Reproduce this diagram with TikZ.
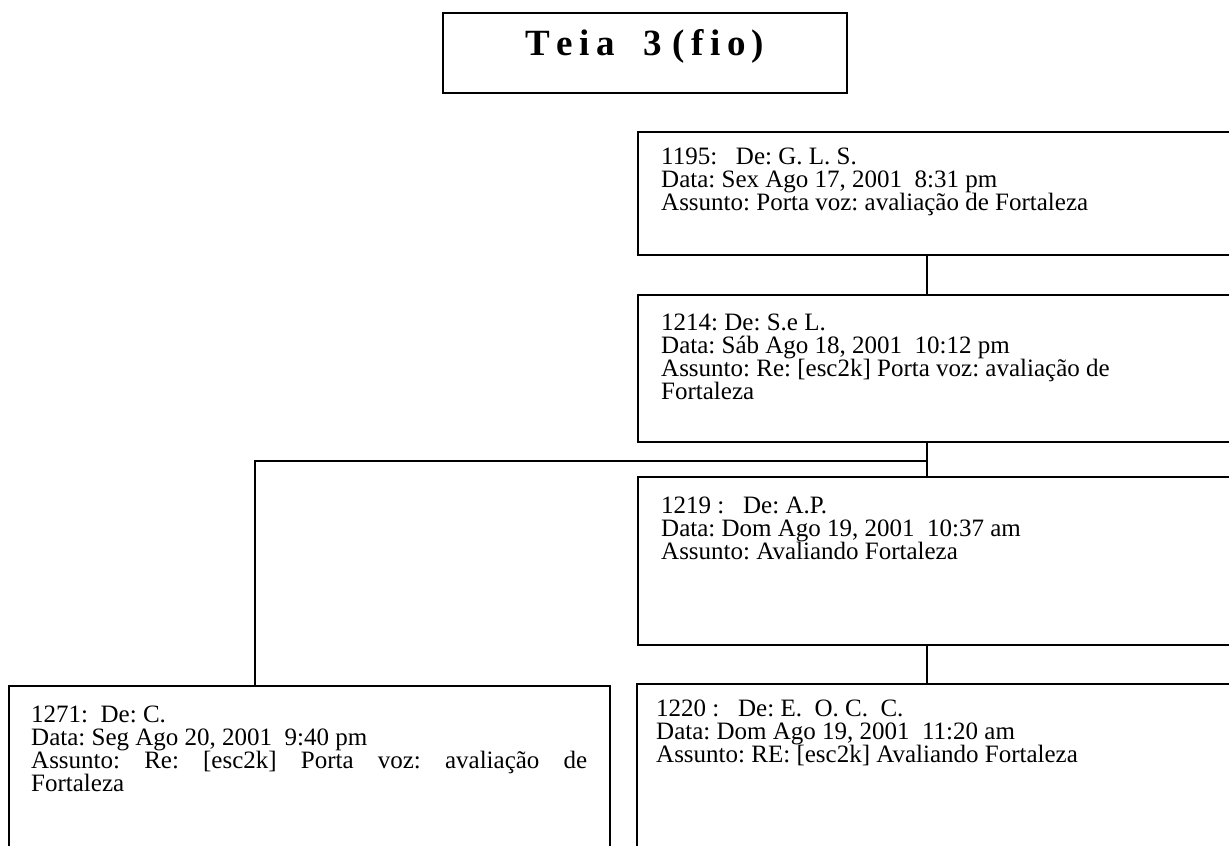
\documentclass[tikz,border=0pt]{standalone}
\usepackage{fontspec}
\setmainfont{Liberation Serif}
\begin{document}
\frenchspacing
\begin{tikzpicture}[x=1pt,y=-1pt,
  box/.style={draw, rectangle, line width=1.8pt, inner sep=0pt, outer sep=0pt, anchor=north west},
  wire/.style={line width=1.8pt},
  msg/.style={anchor=base west, inner sep=0pt, font=\fontsize{25}{23.2}\selectfont}]
\useasboundingbox (0,0) rectangle (1229,846);
\clip (0,0) rectangle (1229,846);
\fill[white] (0,0) rectangle (1229,846);

% title
\node[box, minimum width=404pt, minimum height=80pt] (title) at (443,13) {};
\node[anchor=base, inner sep=0pt, font=\fontsize{37}{40}\selectfont\bfseries] (titletext) at (645,55)
  {T\kern6.5pt e\kern6.5pt i\kern6.5pt a\hspace{28pt}3\kern11pt(\kern6.5pt f\kern6.5pt i\kern6.5pt o\kern6.5pt)};

% message boxes
\node[box, minimum width=622pt, minimum height=123pt] (b1195) at (638,132) {};
\node[box, minimum width=622pt, minimum height=147pt] (b1214) at (638,295) {};
\node[box, minimum width=622pt, minimum height=168pt] (b1219) at (638,477) {};
\node[box, minimum width=623pt, minimum height=220pt] (b1220) at (637,684) {};
\node[box, minimum width=601pt, minimum height=220pt] (b1271) at (9,686) {};

% message texts
\node[msg] (t1195) at (661,164) {\parbox[t]{560pt}{1195:\ \ \ De: G. L. S.\\
  Data: Sex Ago 17, 2001\ \ 8:31 pm\\
  Assunto: Porta voz: avaliação de Fortaleza}};
\node[msg] (t1214) at (661,330) {\parbox[t]{560pt}{1214: De: S.e L.\\
  Data: Sáb Ago 18, 2001\ \ 10:12 pm\\
  Assunto: Re: [esc2k] Porta voz: avaliação de\\
  Fortaleza}};
\node[msg] (t1219) at (661,513) {\parbox[t]{560pt}{1219 :\ \ \ De: A.P.\\
  Data: Dom Ago 19, 2001\ \ 10:37 am\\
  Assunto: Avaliando Fortaleza}};
\node[msg] (t1220) at (656,716) {\parbox[t]{560pt}{1220 :\ \ \ De: E.\ \ O. C.\ \ C.\\
  Data: Dom Ago 19, 2001\ \ 11:20 am\\
  Assunto: RE: [esc2k] Avaliando Fortaleza}};
\node[msg] (t1271) at (31,722) {\parbox[t]{560pt}{1271:\ \ De: C.\\
  Data: Seg Ago 20, 2001\ \ 9:40 pm\\
  \makebox[556pt][s]{Assunto: Re: [esc2k] Porta voz: avaliação de}\\
  Fortaleza}};

% connectors
\coordinate (spine) at (927,0);
\coordinate (fork) at (255,461);
\draw[wire] (b1195.south -| spine) -- (b1214.north -| spine);
\draw[wire] (b1214.south -| spine) -- (b1219.north -| spine);
\draw[wire] (b1219.south -| spine) -- (b1220.north -| spine);
\draw[wire] (fork -| spine) -- (fork) -- (b1271.north -| fork);
\end{tikzpicture}
\end{document}
